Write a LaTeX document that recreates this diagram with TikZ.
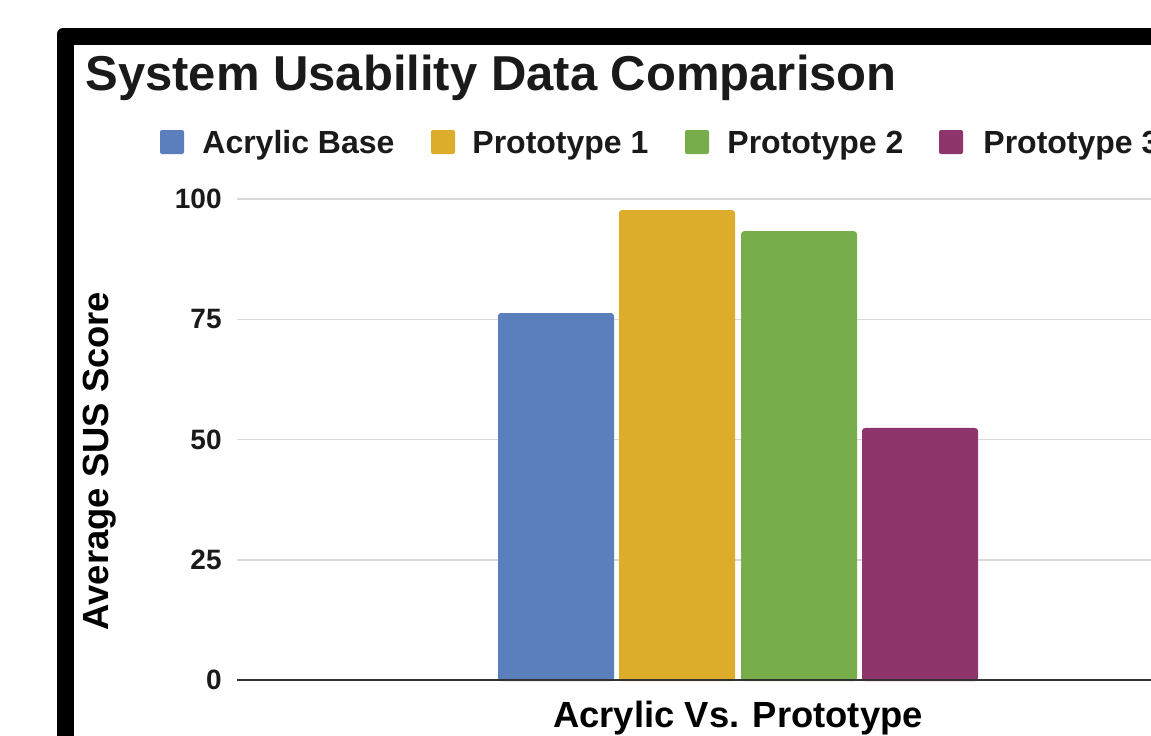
\documentclass[tikz,border=0pt]{standalone}
\usepackage{fontspec}
\setmainfont{Liberation Sans}
\usepackage{xcolor}
\definecolor{barblue}{HTML}{5A7FBC}
\definecolor{baryellow}{HTML}{DEAC2B}
\definecolor{bargreen}{HTML}{77AD4B}
\definecolor{barpurple}{HTML}{8F356E}
\definecolor{gridgray}{HTML}{D9D9D9}
\definecolor{axisdark}{HTML}{333333}
\definecolor{inkdark}{HTML}{1A1A1A}
\usepackage{tikz}
\usetikzlibrary{positioning}

\begin{document}
\begin{tikzpicture}[
  x=0.5pt, y=-0.5pt,
  titletext/.style={font=\bfseries\fontsize{24.5}{29}\selectfont,
    text=inkdark, inner sep=0pt, anchor=base west},
  legsq/.style={rounded corners=1pt},
  legtext/.style={font=\bfseries\fontsize{16}{19}\selectfont,
    text=inkdark, inner sep=0pt, anchor=base west},
  ticklbl/.style={font=\bfseries\fontsize{14}{17}\selectfont,
    text=inkdark, inner sep=0pt, anchor=east},
  axlbl/.style={font=\bfseries\fontsize{18.2}{22}\selectfont,
    text=black, inner sep=0pt},
  gridln/.style={draw=gridgray, line width=0.75pt},
  baseln/.style={draw=axisdark, line width=1pt},
]

% === CANVAS AND FRAME ===
\useasboundingbox (0,0) rectangle (1151,735);
\clip (0,0) rectangle (1151,735);
\fill[white] (0,0) rectangle (1151,735);
\fill[black, rounded corners=3pt] (57,28) rectangle (1300,900);
\fill[white] (74,45) rectangle (1300,900);

% === TITLE ===
\node[titletext] (title) at (85,90) {System Usability Data Comparison};

% === LEGEND ===
\foreach \sx/\tx/\col/\lbl/\nm in {160/202/barblue/Acrylic Base/acr,
    431/472/baryellow/Prototype 1/pa,
    685/727/bargreen/Prototype 2/pb,
    939/983/barpurple/Prototype 3/pc} {
  \fill[legsq, \col] (\sx,130) rectangle ++(24,24);
  \node[legtext] (leg-\nm) at (\tx,153) {\lbl};
}

% === GRID AND TICKS (0..100, 4.81px per unit) ===
\foreach \v in {25,50,75,100} {
  \draw[gridln] (237,{680-4.81*\v}) -- (1160,{680-4.81*\v});
}
\foreach \v in {0,25,50,75,100} {
  \node[ticklbl] (tick-\v) at (222,{680-4.81*\v}) {\v};
}

% === BARS ===
\foreach \x/\v/\col in {498/76.3/barblue, 619/97.7/baryellow,
    741/93.3/bargreen, 862/52.4/barpurple} {
  \fill[\col, rounded corners=1.5pt] (\x,681) rectangle (\x+116,{680-4.81*\v});
}
\draw[baseln] (237,680) -- (1160,680);

% === AXIS LABELS ===
\node[axlbl, anchor=base] (xlabel) at (738,727) {Acrylic Vs. Prototype};
\node[axlbl, rotate=90] (ylabel) at (100,461) {Average SUS Score};

\end{tikzpicture}
\end{document}
